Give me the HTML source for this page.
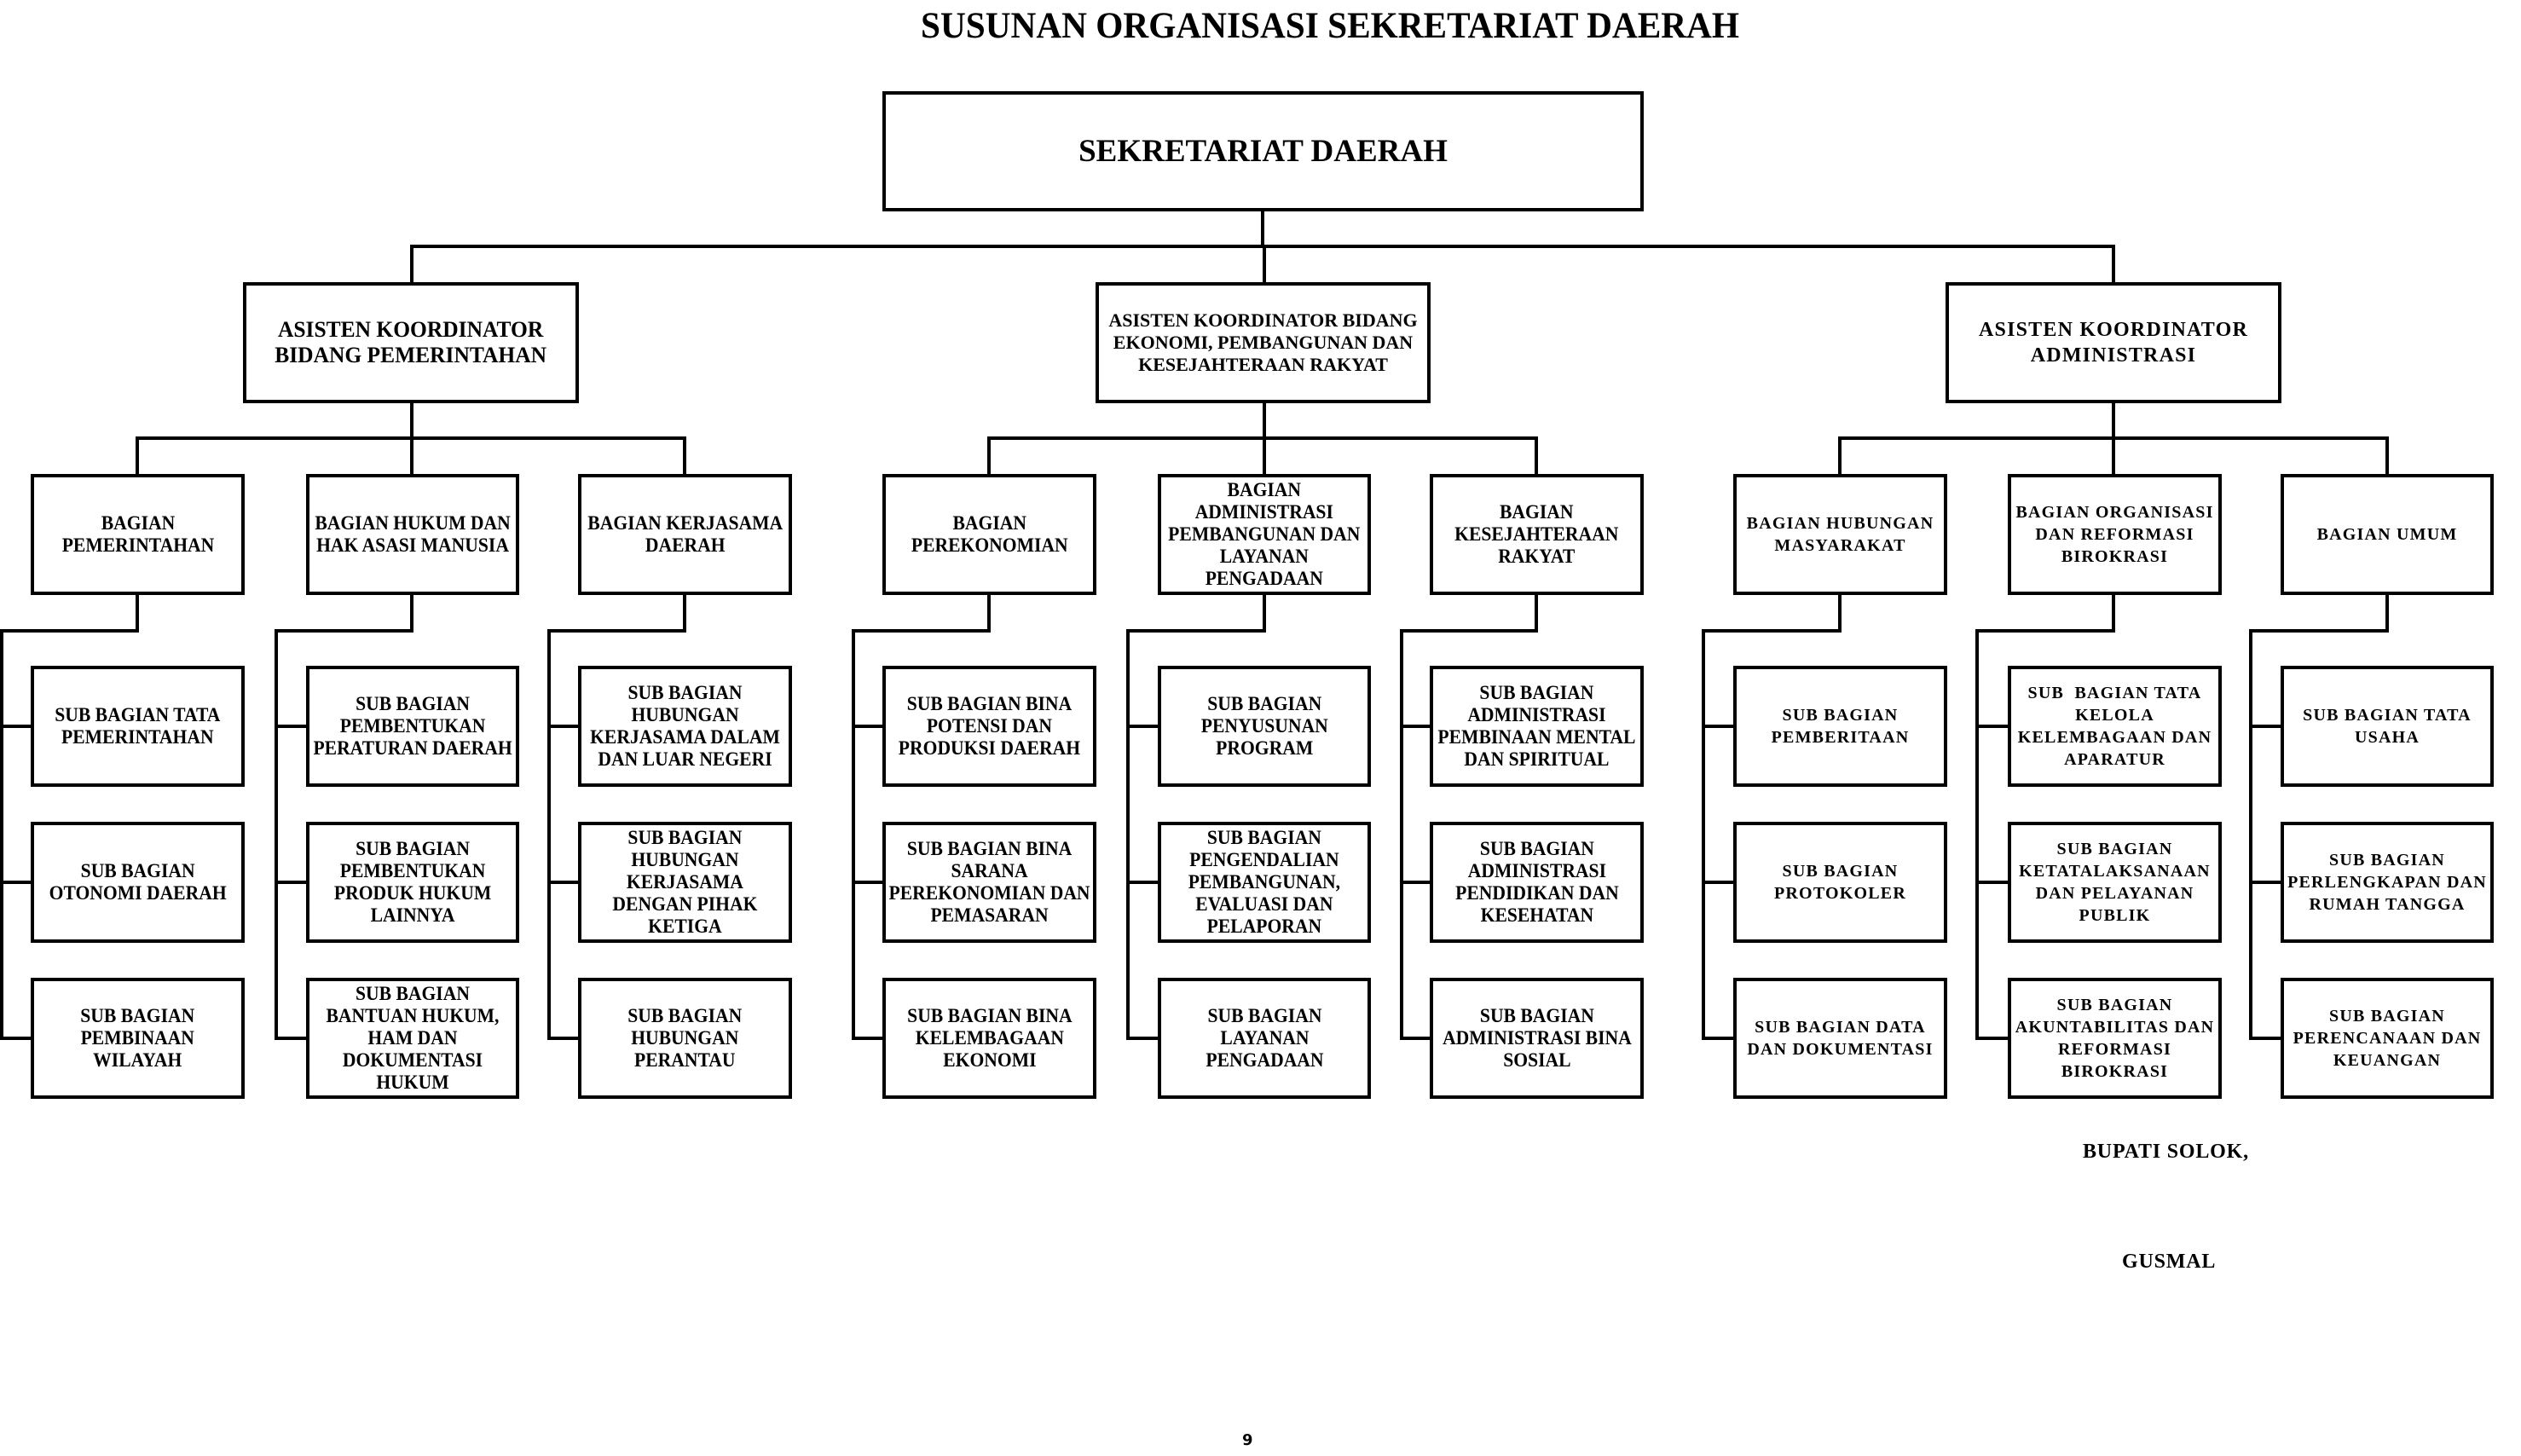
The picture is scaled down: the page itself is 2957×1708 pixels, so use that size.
<!DOCTYPE html>
<html><head><meta charset="utf-8">
<style>
html,body{margin:0;padding:0;background:#fff;}
body{width:2957px;height:1708px;position:relative;overflow:hidden;font-family:"Liberation Serif",serif;font-weight:bold;color:#000;}
.b{position:absolute;box-sizing:border-box;border:4px solid #000;display:flex;align-items:center;justify-content:center;text-align:center;white-space:nowrap;}
.b span{display:inline-block;}
.c{font-size:23px;line-height:26px;}
.c span{transform:scaleX(0.94);}
.w{font-size:20px;line-height:26px;letter-spacing:1.2px;}
.h{position:absolute;background:#000;height:4px;}
.v{position:absolute;background:#000;width:4px;}
.t{position:absolute;white-space:nowrap;}
</style></head><body>
<div class="t" style="left:1000px;top:8px;width:1120px;text-align:center;font-size:43px;line-height:46px;"><span style="display:inline-block;transform:scaleX(0.96);">SUSUNAN ORGANISASI SEKRETARIAT DAERAH</span></div>

<div class="b" style="left:1035px;top:107px;width:893px;height:141px;font-size:37px;"><span>SEKRETARIAT DAERAH</span></div>

<div class="v" style="left:1479px;top:247px;height:44px;"></div>
<div class="h" style="left:481px;top:287px;width:2000px;"></div>
<div class="v" style="left:481px;top:287px;height:46px;"></div>
<div class="v" style="left:1481px;top:287px;height:46px;"></div>
<div class="v" style="left:2477px;top:287px;height:46px;"></div>

<div class="b" style="left:285px;top:331px;width:394px;height:142px;font-size:26px;line-height:30px;"><span style="transform:scaleX(0.98)">ASISTEN KOORDINATOR<br>BIDANG PEMERINTAHAN</span></div>
<div class="b" style="left:1285px;top:331px;width:393px;height:142px;font-size:22px;line-height:26px;"><span>ASISTEN KOORDINATOR BIDANG<br>EKONOMI, PEMBANGUNAN DAN<br>KESEJAHTERAAN RAKYAT</span></div>
<div class="b" style="left:2282px;top:331px;width:394px;height:142px;font-size:24px;line-height:30px;letter-spacing:1.2px;"><span>ASISTEN KOORDINATOR<br>ADMINISTRASI</span></div>

<div class="v" style="left:481px;top:473px;height:43px;"></div>
<div class="h" style="left:159px;top:512px;width:646px;"></div>
<div class="v" style="left:159px;top:512px;height:44px;"></div>
<div class="v" style="left:481px;top:512px;height:44px;"></div>
<div class="v" style="left:801px;top:512px;height:44px;"></div>

<div class="v" style="left:1481px;top:473px;height:43px;"></div>
<div class="h" style="left:1158px;top:512px;width:646px;"></div>
<div class="v" style="left:1158px;top:512px;height:44px;"></div>
<div class="v" style="left:1481px;top:512px;height:44px;"></div>
<div class="v" style="left:1800px;top:512px;height:44px;"></div>

<div class="v" style="left:2477px;top:473px;height:43px;"></div>
<div class="h" style="left:2156px;top:512px;width:646px;"></div>
<div class="v" style="left:2156px;top:512px;height:44px;"></div>
<div class="v" style="left:2477px;top:512px;height:44px;"></div>
<div class="v" style="left:2798px;top:512px;height:44px;"></div>

<div class="b c" style="left:36px;top:556px;width:251px;height:142px;"><span>BAGIAN<br>PEMERINTAHAN</span></div>
<div class="b c" style="left:359px;top:556px;width:250px;height:142px;"><span>BAGIAN HUKUM DAN<br>HAK ASASI MANUSIA</span></div>
<div class="b c" style="left:678px;top:556px;width:251px;height:142px;"><span>BAGIAN KERJASAMA<br>DAERAH</span></div>
<div class="b c" style="left:1035px;top:556px;width:251px;height:142px;"><span>BAGIAN<br>PEREKONOMIAN</span></div>
<div class="b c" style="left:1358px;top:556px;width:250px;height:142px;"><span>BAGIAN<br>ADMINISTRASI<br>PEMBANGUNAN DAN<br>LAYANAN<br>PENGADAAN</span></div>
<div class="b c" style="left:1677px;top:556px;width:251px;height:142px;"><span>BAGIAN<br>KESEJAHTERAAN<br>RAKYAT</span></div>
<div class="b w" style="left:2033px;top:556px;width:251px;height:142px;"><span>BAGIAN HUBUNGAN<br>MASYARAKAT</span></div>
<div class="b w" style="left:2355px;top:556px;width:251px;height:142px;"><span>BAGIAN ORGANISASI<br>DAN REFORMASI<br>BIROKRASI</span></div>
<div class="b w" style="left:2675px;top:556px;width:250px;height:142px;"><span>BAGIAN UMUM</span></div>

<div class="v" style="left:159px;top:698px;height:44px;"></div>
<div class="h" style="left:0px;top:738px;width:163px;"></div>
<div class="v" style="left:0px;top:738px;height:482px;"></div>
<div class="h" style="left:0px;top:850px;width:38px;"></div>
<div class="h" style="left:0px;top:1033px;width:38px;"></div>
<div class="h" style="left:0px;top:1216px;width:38px;"></div>
<div class="v" style="left:481px;top:698px;height:44px;"></div>
<div class="h" style="left:322px;top:738px;width:163px;"></div>
<div class="v" style="left:322px;top:738px;height:482px;"></div>
<div class="h" style="left:322px;top:850px;width:39px;"></div>
<div class="h" style="left:322px;top:1033px;width:39px;"></div>
<div class="h" style="left:322px;top:1216px;width:39px;"></div>
<div class="v" style="left:801px;top:698px;height:44px;"></div>
<div class="h" style="left:642px;top:738px;width:163px;"></div>
<div class="v" style="left:642px;top:738px;height:482px;"></div>
<div class="h" style="left:642px;top:850px;width:38px;"></div>
<div class="h" style="left:642px;top:1033px;width:38px;"></div>
<div class="h" style="left:642px;top:1216px;width:38px;"></div>
<div class="v" style="left:1158px;top:698px;height:44px;"></div>
<div class="h" style="left:999px;top:738px;width:163px;"></div>
<div class="v" style="left:999px;top:738px;height:482px;"></div>
<div class="h" style="left:999px;top:850px;width:38px;"></div>
<div class="h" style="left:999px;top:1033px;width:38px;"></div>
<div class="h" style="left:999px;top:1216px;width:38px;"></div>
<div class="v" style="left:1481px;top:698px;height:44px;"></div>
<div class="h" style="left:1321px;top:738px;width:164px;"></div>
<div class="v" style="left:1321px;top:738px;height:482px;"></div>
<div class="h" style="left:1321px;top:850px;width:39px;"></div>
<div class="h" style="left:1321px;top:1033px;width:39px;"></div>
<div class="h" style="left:1321px;top:1216px;width:39px;"></div>
<div class="v" style="left:1800px;top:698px;height:44px;"></div>
<div class="h" style="left:1642px;top:738px;width:162px;"></div>
<div class="v" style="left:1642px;top:738px;height:482px;"></div>
<div class="h" style="left:1642px;top:850px;width:37px;"></div>
<div class="h" style="left:1642px;top:1033px;width:37px;"></div>
<div class="h" style="left:1642px;top:1216px;width:37px;"></div>
<div class="v" style="left:2156px;top:698px;height:44px;"></div>
<div class="h" style="left:1996px;top:738px;width:164px;"></div>
<div class="v" style="left:1996px;top:738px;height:482px;"></div>
<div class="h" style="left:1996px;top:850px;width:39px;"></div>
<div class="h" style="left:1996px;top:1033px;width:39px;"></div>
<div class="h" style="left:1996px;top:1216px;width:39px;"></div>
<div class="v" style="left:2477px;top:698px;height:44px;"></div>
<div class="h" style="left:2317px;top:738px;width:164px;"></div>
<div class="v" style="left:2317px;top:738px;height:482px;"></div>
<div class="h" style="left:2317px;top:850px;width:40px;"></div>
<div class="h" style="left:2317px;top:1033px;width:40px;"></div>
<div class="h" style="left:2317px;top:1216px;width:40px;"></div>
<div class="v" style="left:2798px;top:698px;height:44px;"></div>
<div class="h" style="left:2638px;top:738px;width:164px;"></div>
<div class="v" style="left:2638px;top:738px;height:482px;"></div>
<div class="h" style="left:2638px;top:850px;width:39px;"></div>
<div class="h" style="left:2638px;top:1033px;width:39px;"></div>
<div class="h" style="left:2638px;top:1216px;width:39px;"></div>

<div class="b c" style="left:36px;top:781px;width:251px;height:142px;"><span>SUB BAGIAN TATA<br>PEMERINTAHAN</span></div>
<div class="b c" style="left:36px;top:964px;width:251px;height:142px;"><span>SUB BAGIAN<br>OTONOMI DAERAH</span></div>
<div class="b c" style="left:36px;top:1147px;width:251px;height:142px;"><span>SUB BAGIAN<br>PEMBINAAN<br>WILAYAH</span></div>

<div class="b c" style="left:359px;top:781px;width:250px;height:142px;"><span>SUB BAGIAN<br>PEMBENTUKAN<br>PERATURAN DAERAH</span></div>
<div class="b c" style="left:359px;top:964px;width:250px;height:142px;"><span>SUB BAGIAN<br>PEMBENTUKAN<br>PRODUK HUKUM<br>LAINNYA</span></div>
<div class="b c" style="left:359px;top:1147px;width:250px;height:142px;"><span>SUB BAGIAN<br>BANTUAN HUKUM,<br>HAM DAN<br>DOKUMENTASI<br>HUKUM</span></div>

<div class="b c" style="left:678px;top:781px;width:251px;height:142px;"><span>SUB BAGIAN<br>HUBUNGAN<br>KERJASAMA DALAM<br>DAN LUAR NEGERI</span></div>
<div class="b c" style="left:678px;top:964px;width:251px;height:142px;"><span>SUB BAGIAN<br>HUBUNGAN<br>KERJASAMA<br>DENGAN PIHAK<br>KETIGA</span></div>
<div class="b c" style="left:678px;top:1147px;width:251px;height:142px;"><span>SUB BAGIAN<br>HUBUNGAN<br>PERANTAU</span></div>

<div class="b c" style="left:1035px;top:781px;width:251px;height:142px;"><span>SUB BAGIAN BINA<br>POTENSI DAN<br>PRODUKSI DAERAH</span></div>
<div class="b c" style="left:1035px;top:964px;width:251px;height:142px;"><span>SUB BAGIAN BINA<br>SARANA<br>PEREKONOMIAN DAN<br>PEMASARAN</span></div>
<div class="b c" style="left:1035px;top:1147px;width:251px;height:142px;"><span>SUB BAGIAN BINA<br>KELEMBAGAAN<br>EKONOMI</span></div>

<div class="b c" style="left:1358px;top:781px;width:250px;height:142px;"><span>SUB BAGIAN<br>PENYUSUNAN<br>PROGRAM</span></div>
<div class="b c" style="left:1358px;top:964px;width:250px;height:142px;"><span>SUB BAGIAN<br>PENGENDALIAN<br>PEMBANGUNAN,<br>EVALUASI DAN<br>PELAPORAN</span></div>
<div class="b c" style="left:1358px;top:1147px;width:250px;height:142px;"><span>SUB BAGIAN<br>LAYANAN<br>PENGADAAN</span></div>

<div class="b c" style="left:1677px;top:781px;width:251px;height:142px;"><span>SUB BAGIAN<br>ADMINISTRASI<br>PEMBINAAN MENTAL<br>DAN SPIRITUAL</span></div>
<div class="b c" style="left:1677px;top:964px;width:251px;height:142px;"><span>SUB BAGIAN<br>ADMINISTRASI<br>PENDIDIKAN DAN<br>KESEHATAN</span></div>
<div class="b c" style="left:1677px;top:1147px;width:251px;height:142px;"><span>SUB BAGIAN<br>ADMINISTRASI BINA<br>SOSIAL</span></div>

<div class="b w" style="left:2033px;top:781px;width:251px;height:142px;"><span>SUB BAGIAN<br>PEMBERITAAN</span></div>
<div class="b w" style="left:2033px;top:964px;width:251px;height:142px;"><span>SUB BAGIAN<br>PROTOKOLER</span></div>
<div class="b w" style="left:2033px;top:1147px;width:251px;height:142px;"><span>SUB BAGIAN DATA<br>DAN DOKUMENTASI</span></div>

<div class="b w" style="left:2355px;top:781px;width:251px;height:142px;"><span>SUB&nbsp; BAGIAN TATA<br>KELOLA<br>KELEMBAGAAN DAN<br>APARATUR</span></div>
<div class="b w" style="left:2355px;top:964px;width:251px;height:142px;"><span>SUB BAGIAN<br>KETATALAKSANAAN<br>DAN PELAYANAN<br>PUBLIK</span></div>
<div class="b w" style="left:2355px;top:1147px;width:251px;height:142px;"><span>SUB BAGIAN<br>AKUNTABILITAS DAN<br>REFORMASI<br>BIROKRASI</span></div>

<div class="b w" style="left:2675px;top:781px;width:250px;height:142px;"><span>SUB BAGIAN TATA<br>USAHA</span></div>
<div class="b w" style="left:2675px;top:964px;width:250px;height:142px;"><span>SUB BAGIAN<br>PERLENGKAPAN DAN<br>RUMAH TANGGA</span></div>
<div class="b w" style="left:2675px;top:1147px;width:250px;height:142px;"><span>SUB BAGIAN<br>PERENCANAAN DAN<br>KEUANGAN</span></div>

<div class="t" style="left:2443px;top:1337px;font-size:24px;line-height:28px;letter-spacing:0.8px;">BUPATI SOLOK,</div>
<div class="t" style="left:2489px;top:1466px;font-size:24px;line-height:28px;letter-spacing:0.8px;">GUSMAL</div>
<div class="t" style="left:1457px;top:1680px;font-size:18px;line-height:20px;font-family:'DejaVu Sans',sans-serif;">9</div>
</body></html>
